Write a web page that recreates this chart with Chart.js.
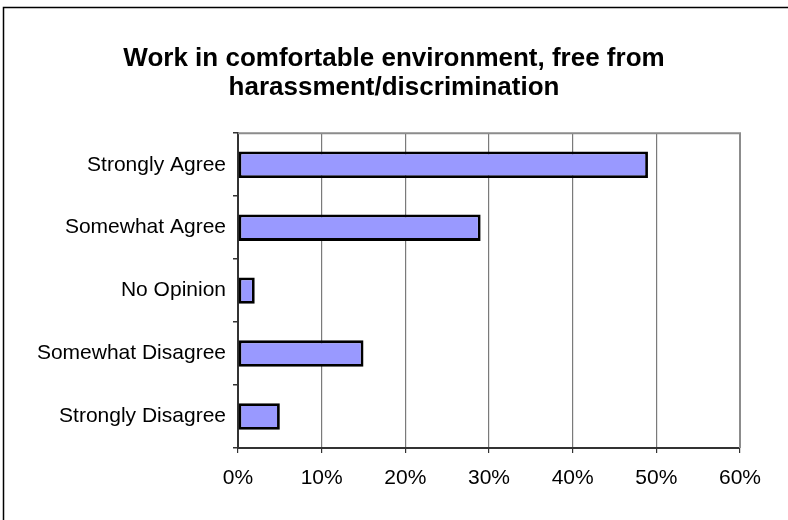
<!DOCTYPE html>
<html>
<head>
<meta charset="utf-8">
<script src="https://cdn.jsdelivr.net/npm/chart.js@4/dist/chart.umd.min.js"></script>
<style>
html,body{margin:0;padding:0;background:#fff;}
#wrap{width:788px;height:520px;position:relative;}
</style>
</head>
<body>
<div id="wrap"><canvas id="c" width="788" height="520"></canvas></div>
<script>
const titleLines = ['Work in comfortable environment, free from', 'harassment/discrimination'];
const categories = ['Strongly Agree', 'Somewhat Agree', 'No Opinion', 'Somewhat Disagree', 'Strongly Disagree'];
const percentValues = [49, 29, 2, 15, 5];
const axisMax = 60;
const axisStep = 10;

const frame = {
  id: 'frame',
  beforeDraw(chart) {
    const ctx = chart.ctx;
    ctx.save();
    ctx.fillStyle = '#fff';
    ctx.fillRect(0, 0, chart.width, chart.height);
    ctx.strokeStyle = '#000';
    ctx.lineWidth = 1.5;
    ctx.strokeRect(3.5, 7.5, chart.width + 20, chart.height + 20);
    ctx.restore();
  },
  afterDatasetsDraw(chart) {
    const a = chart.chartArea;
    const ctx = chart.ctx;
    ctx.save();
    ctx.strokeStyle = '#8c8c8c';
    ctx.lineWidth = 2;
    ctx.beginPath();
    ctx.moveTo(a.left, a.top);
    ctx.lineTo(a.right, a.top);
    ctx.lineTo(a.right, a.bottom);
    ctx.stroke();
    ctx.restore();
  }
};

new Chart(document.getElementById('c'), {
  type: 'bar',
  data: {
    labels: categories,
    datasets: [{
      data: percentValues,
      backgroundColor: '#9999FF',
      borderColor: '#000000',
      borderWidth: 2.8,
      borderSkipped: false,
      categoryPercentage: 1.0,
      barPercentage: 0.42
    }]
  },
  options: {
    indexAxis: 'y',
    responsive: false,
    animation: false,
    devicePixelRatio: 1,
    layout: { padding: { left: 0, right: 0, top: 0, bottom: 0 } },
    plugins: {
      legend: { display: false },
      tooltip: { enabled: false },
      title: {
        display: true,
        text: titleLines,
        color: '#000',
        font: { family: 'Liberation Sans, Arial, sans-serif', size: 26, weight: 'bold', lineHeight: 1.12 },
        padding: { top: 44, bottom: 31 }
      }
    },
    scales: {
      x: {
        min: 0,
        max: axisMax,
        ticks: {
          stepSize: axisStep,
          color: '#000',
          font: { family: 'Liberation Sans, Arial, sans-serif', size: 21 },
          padding: 13,
          callback: v => v + '%'
        },
        grid: { color: '#7a7a7a', lineWidth: 1.2, tickLength: 5, tickColor: '#333' },
        border: { color: '#333', width: 2 },
        afterFit(s) { s.height = 72; }
      },
      y: {
        offset: true,
        ticks: {
          color: '#000',
          font: { family: 'Liberation Sans, Arial, sans-serif', size: 21 },
          padding: 7
        },
        grid: { offset: true, drawOnChartArea: false, tickLength: 5, tickColor: '#333', lineWidth: 1.5 },
        border: { color: '#333', width: 2 },
        afterFit(s) { s.width = 238; }
      },
      yRight: {
        type: 'category',
        position: 'right',
        offset: true,
        ticks: { display: false },
        grid: { display: false, drawTicks: false },
        border: { display: false },
        afterFit(s) { s.width = 48; }
      }
    }
  },
  plugins: [frame]
});
</script>
</body>
</html>
